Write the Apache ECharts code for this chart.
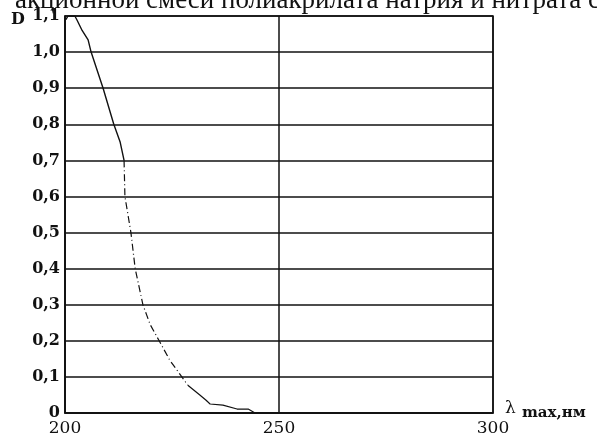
<!DOCTYPE html>
<html><head><meta charset="utf-8">
<script src="https://cdn.jsdelivr.net/npm/echarts@6/dist/echarts.min.js"></script>
<style>html,body{margin:0;padding:0;background:#fff}#c{width:597px;height:437px}</style>
</head><body><div id="c"></div>
<script>
// wavelength (nm) and optical density D
const solidX = [200.2, 200.7, 202.3, 202.8, 204.0, 205.4, 206.1, 208.9, 211.4, 212.9, 213.8];
const solidD = [1.09, 1.10, 1.10, 1.089, 1.06, 1.034, 1.00, 0.90, 0.80, 0.75, 0.70];
const dashX = [213.8, 214.0, 215.4, 216.4, 218.2, 219.9, 222.0, 224.5, 227.3, 228.7];
const dashD = [0.70, 0.60, 0.50, 0.40, 0.30, 0.245, 0.20, 0.146, 0.10, 0.077];
const tailX = [228.7, 231.5, 232.9, 233.9, 236.9, 240.2, 242.8, 244.4, 250.0];
const tailD = [0.077, 0.05, 0.036, 0.025, 0.022, 0.011, 0.011, 0.0, 0.0];
const yTickLabels = ['0', '0,1', '0,2', '0,3', '0,4', '0,5', '0,6', '0,7', '0,8', '0,9', '1,0', '1,1'];
const xTickLabels = ['200', '250', '300'];
const titleText = 'акционной смеси полиакрилата натрия и нитрата с';

const zip = (xs, ys) => xs.map((x, i) => [x, ys[i]]);
const serif = '"Liberation Serif", serif';
const wide = '"DejaVu Serif", serif';
const chart = echarts.init(document.getElementById('c'));
chart.setOption({
  backgroundColor: '#fff',
  animation: false,
  grid: { left: 65, right: 104, top: 16, bottom: 21, show: true, borderColor: '#111', borderWidth: 1.5 },
  xAxis: {
    type: 'value', min: 200, max: 300, interval: 50,
    axisLine: { show: true, lineStyle: { color: '#111', width: 1.5 } },
    axisTick: { show: false },
    splitLine: { show: true, lineStyle: { color: '#111', width: 1.5 } },
    axisLabel: { color: '#111', fontFamily: wide, fontSize: 17, margin: 7,
      formatter: v => xTickLabels[Math.round((v - 200) / 50)] }
  },
  yAxis: {
    type: 'value', min: 0, max: 1.1, interval: 0.1,
    axisLine: { show: true, lineStyle: { color: '#111', width: 1.5 } },
    axisTick: { show: false },
    splitLine: { show: true, lineStyle: { color: '#111', width: 1.5 } },
    axisLabel: { color: '#111', fontFamily: wide, fontSize: 16, fontWeight: 'bold', margin: 5,
      formatter: v => yTickLabels[Math.round(v * 10)] }
  },
  graphic: [
    { type: 'text', left: 15, top: -13, style: { text: titleText, font: '27px ' + serif, fill: '#111' } },
    { type: 'text', left: 11, top: 12, style: { text: 'D', font: 'bold 16px ' + wide, fill: '#111' } },
    { type: 'text', left: 505, top: 400, style: { text: 'λ', font: '17px ' + wide, fill: '#111' } },
    { type: 'text', left: 522, top: 406, style: { text: 'max,нм', font: 'bold 15px ' + wide, fill: '#111' } }
  ],
  series: [
    { type: 'line', data: zip(solidX, solidD), showSymbol: false, lineStyle: { color: '#111', width: 1.4 } },
    { type: 'line', data: zip(dashX, dashD), showSymbol: false, lineStyle: { color: '#111', width: 1.2, type: [7, 3, 1, 3] } },
    { type: 'line', data: zip(tailX, tailD), showSymbol: false, lineStyle: { color: '#111', width: 1.2 } }
  ]
});
</script></body></html>
